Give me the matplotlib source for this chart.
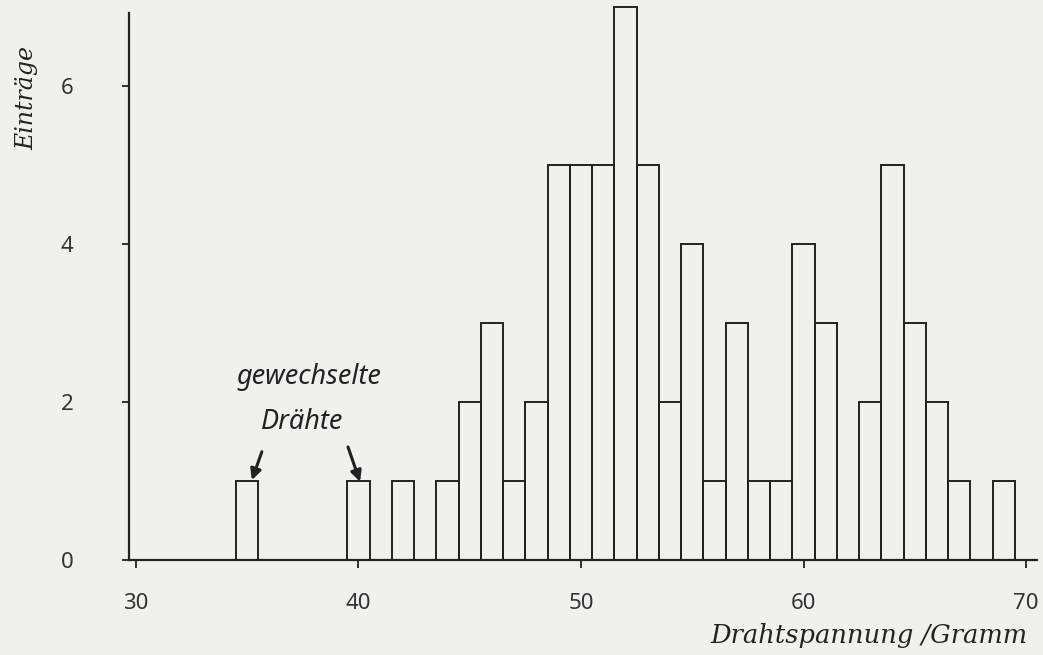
import numpy as np
import matplotlib
matplotlib.use('Agg')
import matplotlib.pyplot as plt

# Histogramm der Drahtspannungen
bins = [35, 40, 42, 44, 45, 46, 47, 48, 49, 50, 51, 52, 53, 54, 55, 56, 57,
        58, 59, 60, 61, 63, 64, 65, 66, 67, 69]
counts = [1, 1, 1, 1, 2, 3, 1, 2, 5, 5, 5, 7, 5, 2, 4, 1, 3,
          1, 1, 4, 3, 2, 5, 3, 2, 1, 1]
xticks = [30, 40, 50, 60, 70]
yticks = [0, 2, 4, 6]

W, H = 1043, 655
ink = '#222222'

fig = plt.figure(figsize=(W / 100, H / 100), dpi=100)
fig.patch.set_facecolor('#f0f0ef')

ax = fig.add_axes([129 / W, (H - 560) / H, (1037 - 129) / W, (560 - 13) / H])
ax.patch.set_alpha(0)

ax.bar(bins, counts, width=1.0, facecolor='none', edgecolor=ink,
       linewidth=1.4, clip_on=False, zorder=2)

ax.set_xlim(29.69, 70.49)
ax.set_ylim(0, 6.92)
ax.spines['top'].set_visible(False)
ax.spines['right'].set_visible(False)
for s in ['left', 'bottom']:
    ax.spines[s].set_color(ink)
    ax.spines[s].set_linewidth(1.6)

ax.set_xticks(xticks)
ax.set_yticks(yticks)
ax.tick_params(axis='x', direction='out', length=6, width=1.3, color=ink,
               pad=18, labelsize=16, labelcolor='#333333')
ax.tick_params(axis='y', direction='out', length=5, width=1.3, color=ink,
               pad=35, labelsize=16, labelcolor='#333333')
for lab in ax.get_xticklabels() + ax.get_yticklabels():
    lab.set_family('Noto Sans')

fig.text(27 / W, 1 - 98 / H, 'Einträge', rotation=90, ha='center', va='center',
         fontsize=17, family='DejaVu Serif', style='italic', color=ink)
fig.text(869 / W, 1 - 635 / H, 'Drahtspannung /Gramm', ha='center', va='center',
         fontsize=18.5, family='DejaVu Serif', style='italic', color=ink)

ax.text(37.78, 2.32, 'gewechselte', ha='center', va='center', fontsize=19.5,
        family='Noto Sans', style='italic', color=ink)
ax.text(37.46, 1.75, 'Drähte', ha='center', va='center', fontsize=19.5,
        family='Noto Sans', style='italic', color=ink)

arrow = dict(arrowstyle='-|>', color=ink, lw=2.2, mutation_scale=16,
             shrinkA=0, shrinkB=0)
ax.annotate('', xy=(35.21, 1.01), xytext=(35.66, 1.37), arrowprops=arrow)
ax.annotate('', xy=(40.07, 0.99), xytext=(39.53, 1.43), arrowprops=arrow)

fig.savefig('out.png', dpi=100, facecolor=fig.get_facecolor())
